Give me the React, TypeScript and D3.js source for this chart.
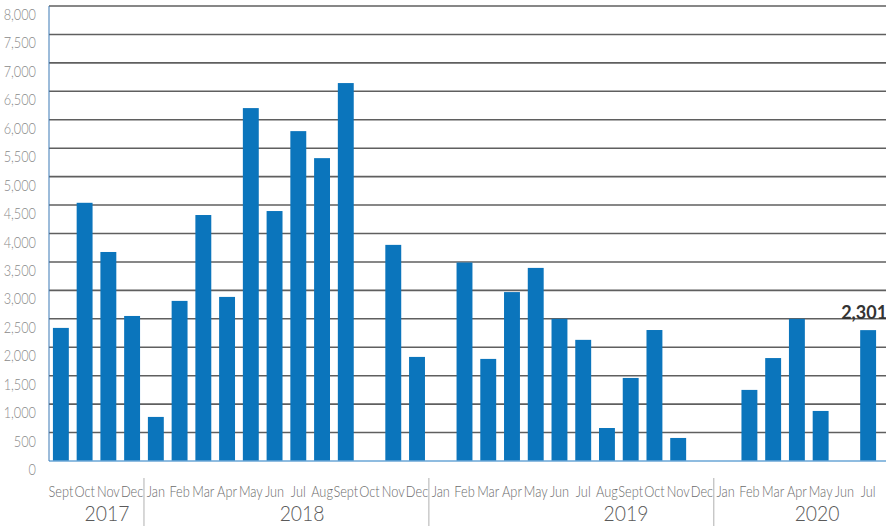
import React from "react";
import * as d3 from "d3";

const months = [
  "Sept","Oct","Nov","Dec",
  "Jan","Feb","Mar","Apr","May","Jun","Jul","Aug","Sept","Oct","Nov","Dec",
  "Jan","Feb","Mar","Apr","May","Jun","Jul","Aug","Sept","Oct","Nov","Dec",
  "Jan","Feb","Mar","Apr","May","Jun","Jul",
];
const values = [
  2340, 4540, 3675, 2550,
  775, 2815, 4325, 2885, 6205, 4395, 5800, 5325, 6645, 0, 3800, 1830,
  0, 3490, 1795, 2970, 3395, 2500, 2130, 580, 1460, 2303, 405, 0,
  0, 1250, 1810, 2500, 880, 0, 2301,
];
const years = ["2017", "2018", "2019", "2020"];
const yearStarts = [0, 4, 16, 28];
const yearLabelPos = [2.44, 10.66, 24.3, 32.35];
const yTicks = [0, 500, 1000, 1500, 2000, 2500, 3000, 3500, 4000, 4500, 5000, 5500, 6000, 6500, 7000, 7500, 8000];
const highlightLabel = "2,301";

export default function App() {
  const W = 886, H = 526;
  const left = 49, right = 880, top = 6, bottom = 461;
  const x = d3.scaleBand<number>().domain(d3.range(months.length)).range([left, right]).paddingInner(0.33).paddingOuter(0.165);
  const step = (right - left) / months.length;
  const y = d3.scaleLinear().domain([0, 8000]).range([bottom, top]);
  const fmt = d3.format(",");
  const font = "Lato, 'Open Sans', sans-serif";
  const last = months.length - 1;
  return (
    <svg width={W} height={H} style={{ position: "absolute", left: 0, top: 0, background: "#fff" }}>
      {yTicks.filter((t) => t > 0).map((t) => (
        <line key={"g" + t} x1={left} x2={W} y1={y(t)} y2={y(t)} stroke="#5f5f5f" strokeWidth={1.6} />
      ))}
      {yTicks.map((t) => (
        <text key={"yl" + t} x={0} y={0} textAnchor="end" fontSize={15} fontWeight={300} fill="#8a8a8a" fontFamily={font}
          transform={`translate(36,${y(t) + 14}) scale(0.85,1)`}>
          {fmt(t)}
        </text>
      ))}
      {values.map((v, i) => (
        <rect key={"b" + i} x={x(i)} width={x.bandwidth()} y={y(v)} height={bottom - y(v)} fill="#0b75bc" />
      ))}
      <line x1={left} x2={W} y1={bottom} y2={bottom} stroke="#6aa6d6" strokeWidth={1.5} />
      <line x1={left} x2={left} y1={top} y2={bottom} stroke="#3a78b5" strokeWidth={1} />
      {months.map((m, i) => {
        const cx = x(i)! + x.bandwidth() / 2;
        return (
          <text key={"m" + i} x={0} y={0} textAnchor="middle" fontSize={16} fontWeight={300} fill="#6b6b6b" fontFamily={font}
            transform={`translate(${cx},497) scale(0.8,1)`}>
            {m}
          </text>
        );
      })}
      {yearStarts.slice(1).map((s, i) => (
        <line key={"s" + i} x1={left + s * step} x2={left + s * step} y1={478} y2={H} stroke="#b0b0b0" strokeWidth={1} />
      ))}
      {years.map((yr, i) => (
        <text key={"y" + yr} x={0} y={0} textAnchor="middle" fontSize={22} fontWeight={300} fill="#5a5a5a" fontFamily={font}
          transform={`translate(${left + yearLabelPos[i] * step},521) scale(0.88,1)`}>
          {yr}
        </text>
      ))}
      <text x={x(last)! + x.bandwidth() / 2 - 4} y={319} textAnchor="middle" fontSize={18} fontWeight="bold" fill="#333" fontFamily={font}>
        {highlightLabel}
      </text>
    </svg>
  );
}
